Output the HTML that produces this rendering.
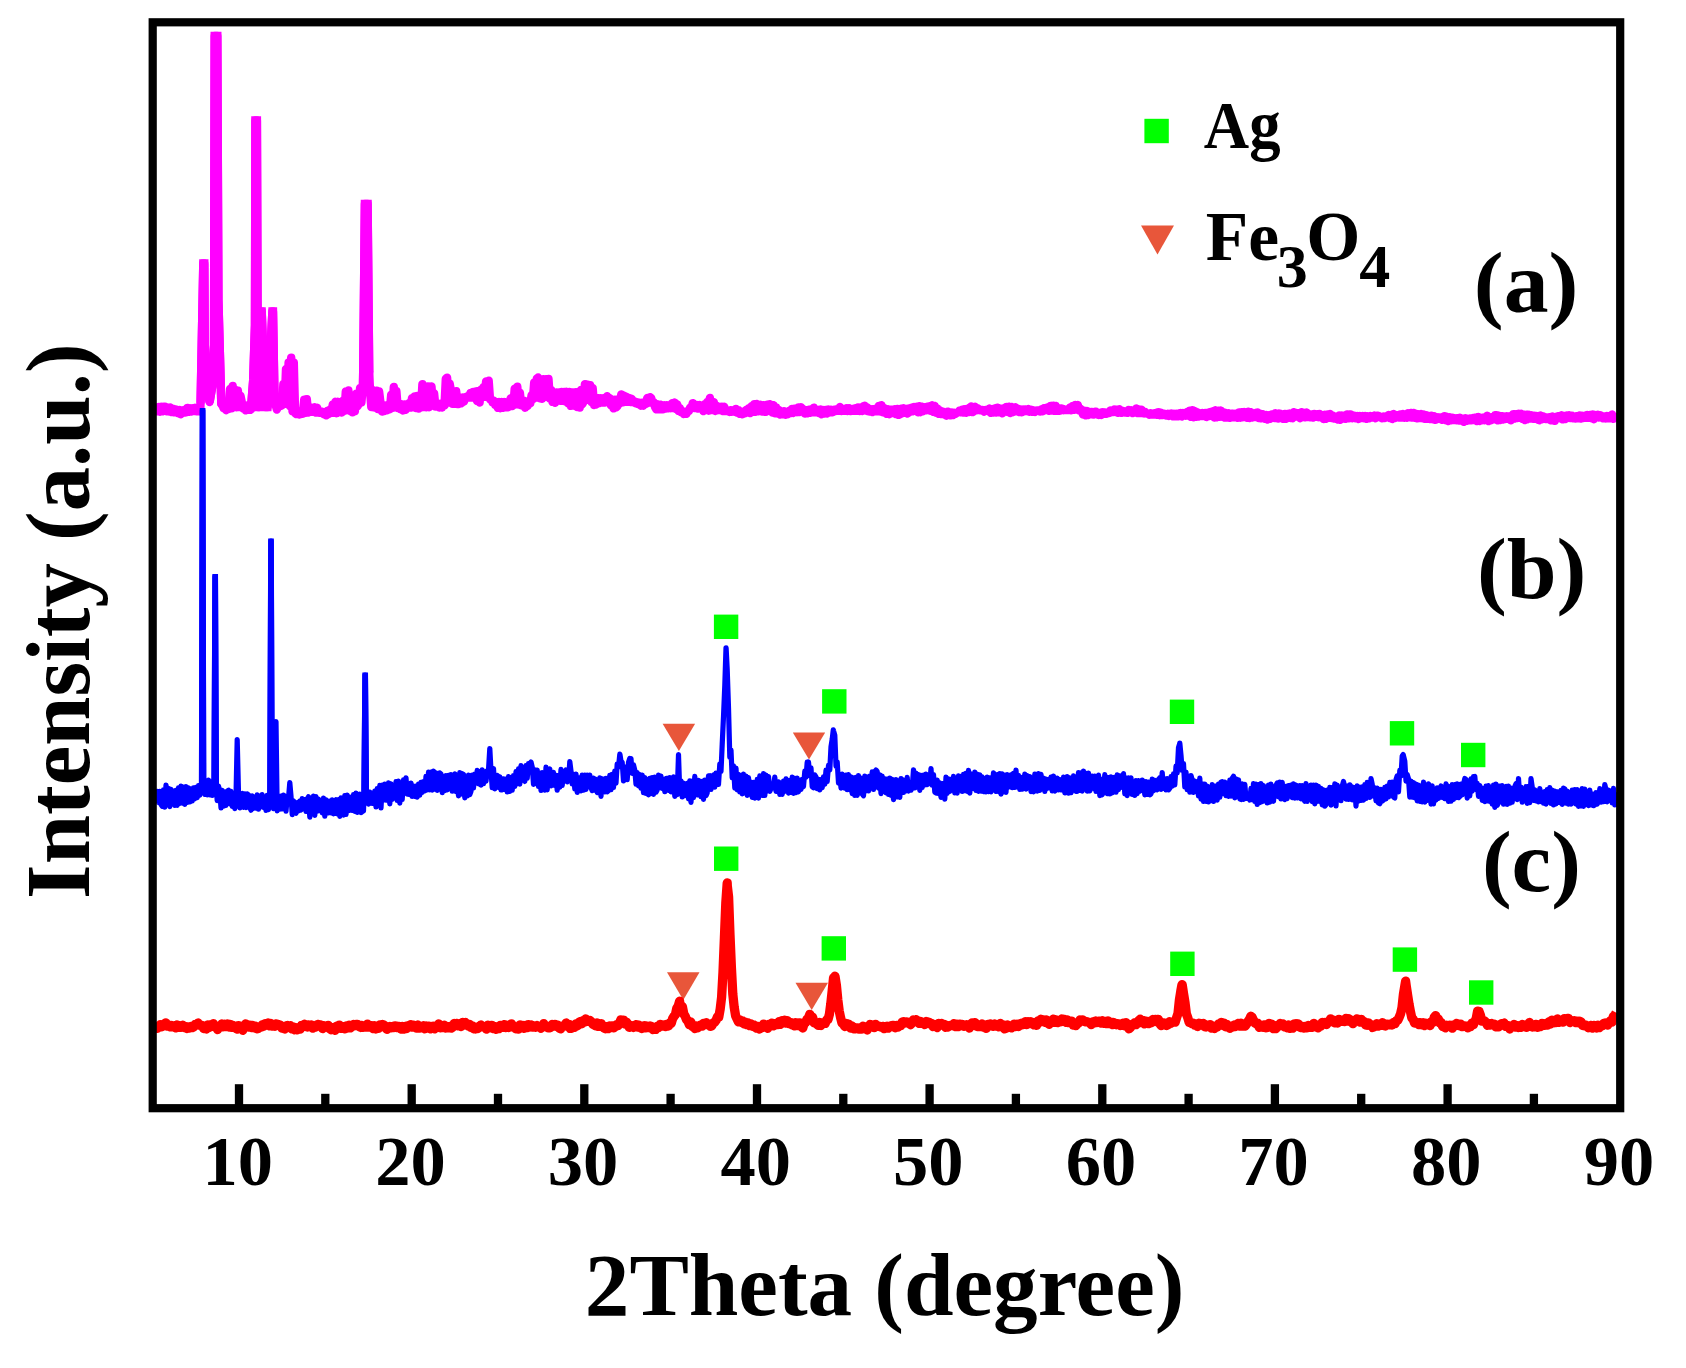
<!DOCTYPE html>
<html lang="en">
<head>
<meta charset="utf-8">
<title>XRD patterns</title>
<style>
html,body{margin:0;padding:0;background:#fff;}
body{width:1686px;height:1368px;overflow:hidden;}
svg{display:block;filter:blur(0.55px);}
</style>
</head>
<body>
<svg width="1686" height="1368" viewBox="0 0 1686 1368">
<rect x="0" y="0" width="1686" height="1368" fill="#ffffff"/>
<g fill="#E8563A">
<path d="M1141.0 225.4L1174.0 225.4L1157.5 254.4Z"/>
<path d="M662.6 723.8L695.1 723.8L678.9 751.0Z"/>
<path d="M792.8 732.4L825.2 732.4L809.0 759.5Z"/>
<path d="M667.0 972.3L699.5 972.3L683.3 1000.0Z"/>
<path d="M795.5 982.7L828.0 982.7L811.7 1010.0Z"/>
</g>
<g fill="#00FF00">
<rect x="1144.4" y="118.8" width="24.4" height="24.4"/>
<rect x="713.9" y="614.6" width="24.4" height="24.4"/>
<rect x="822.1" y="689.2" width="24.4" height="24.4"/>
<rect x="1169.8" y="699.6" width="24.4" height="24.4"/>
<rect x="1389.8" y="721.1" width="24.4" height="24.4"/>
<rect x="1461.0" y="742.8" width="24.4" height="24.4"/>
<rect x="714.0" y="846.5" width="24.4" height="24.4"/>
<rect x="821.6" y="936.2" width="24.4" height="24.4"/>
<rect x="1170.2" y="951.6" width="24.4" height="24.4"/>
<rect x="1392.7" y="947.4" width="24.4" height="24.4"/>
<rect x="1469.0" y="980.3" width="24.4" height="24.4"/>
</g>
<path d="M156.0 1027.1L157.4 1028.4L158.8 1026.3L160.2 1024.7L161.6 1026.9L163.0 1024.4L164.4 1024.0L165.8 1022.8L167.2 1026.2L168.6 1024.9L170.0 1026.9L171.4 1025.5L172.8 1026.7L174.2 1025.9L175.6 1027.9L177.0 1025.0L178.4 1027.3L179.8 1026.0L181.2 1027.3L182.6 1025.2L184.0 1027.6L185.4 1026.3L186.8 1028.5L188.2 1026.8L189.6 1028.1L191.0 1026.5L192.4 1027.5L193.8 1026.8L195.2 1024.5L196.6 1024.8L198.0 1023.0L199.4 1025.2L200.8 1025.5L202.2 1025.3L203.6 1028.5L205.0 1027.0L206.4 1029.0L207.8 1024.9L209.2 1027.5L210.6 1024.7L212.0 1026.2L213.4 1023.6L214.8 1026.8L216.2 1026.6L217.6 1029.6L219.0 1026.2L220.4 1026.4L221.8 1024.0L223.2 1026.9L224.6 1024.2L226.0 1026.5L227.4 1023.9L228.8 1027.0L230.2 1024.4L231.6 1027.3L233.0 1025.5L234.4 1027.7L235.8 1026.4L237.2 1029.2L238.6 1025.6L240.0 1028.1L241.4 1026.4L242.8 1030.3L244.2 1025.9L245.6 1023.9L247.0 1025.8L248.4 1027.0L249.8 1025.2L251.2 1027.5L252.6 1025.4L254.0 1027.8L255.4 1026.2L256.8 1028.8L258.2 1028.7L259.6 1027.2L261.0 1027.1L262.4 1024.7L263.8 1026.3L265.2 1023.6L266.6 1025.2L268.0 1022.9L269.4 1025.8L270.8 1023.4L272.2 1026.2L273.6 1024.7L275.0 1026.3L276.4 1023.8L277.8 1025.1L279.2 1024.7L280.6 1025.3L282.0 1028.2L283.4 1027.0L284.8 1029.0L286.2 1025.8L287.6 1025.5L289.0 1027.2L290.4 1025.7L291.8 1028.9L293.2 1026.9L294.6 1029.8L296.0 1027.6L297.4 1029.9L298.8 1027.5L300.2 1029.0L301.6 1025.3L303.0 1026.5L304.4 1024.2L305.8 1025.1L307.2 1027.0L308.6 1024.8L310.0 1026.1L311.4 1024.8L312.8 1028.2L314.2 1026.1L315.6 1027.1L317.0 1024.7L318.4 1024.4L319.8 1026.0L321.2 1025.0L322.6 1028.6L324.0 1025.7L325.4 1027.1L326.8 1026.7L328.2 1025.3L329.6 1028.7L331.0 1029.6L332.4 1028.1L333.8 1027.4L335.2 1030.3L336.6 1026.4L338.0 1025.7L339.4 1025.1L340.8 1028.4L342.2 1026.7L343.6 1026.7L345.0 1028.9L346.4 1025.9L347.8 1028.0L349.2 1025.1L350.6 1027.9L352.0 1025.9L353.4 1024.5L354.8 1025.6L356.2 1024.3L357.6 1024.3L359.0 1026.5L360.4 1027.3L361.8 1025.3L363.2 1027.4L364.6 1025.7L366.0 1027.2L367.4 1024.1L368.8 1027.0L370.2 1025.5L371.6 1025.6L373.0 1028.5L374.4 1025.7L375.8 1029.0L377.2 1026.2L378.6 1028.4L380.0 1024.8L381.4 1026.6L382.8 1024.6L384.2 1025.1L385.6 1027.9L387.0 1029.4L388.4 1027.0L389.8 1026.4L391.2 1027.9L392.6 1026.4L394.0 1027.7L395.4 1025.8L396.8 1027.6L398.2 1026.3L399.6 1026.6L401.0 1029.1L402.4 1026.4L403.8 1029.1L405.2 1026.4L406.6 1028.6L408.0 1025.6L409.4 1025.8L410.8 1024.6L412.2 1027.2L413.6 1025.2L415.0 1027.0L416.4 1028.1L417.8 1025.0L419.2 1028.2L420.6 1026.3L422.0 1027.9L423.4 1025.7L424.8 1028.8L426.2 1025.9L427.6 1028.0L429.0 1026.1L430.4 1028.8L431.8 1026.7L433.2 1026.2L434.6 1028.8L436.0 1025.8L437.4 1027.1L438.8 1023.9L440.2 1027.9L441.6 1025.9L443.0 1027.7L444.4 1025.2L445.8 1028.1L447.2 1026.3L448.6 1027.9L450.0 1026.3L451.4 1028.0L452.8 1027.1L454.2 1023.5L455.6 1025.5L457.0 1023.4L458.4 1025.9L459.8 1024.8L461.2 1026.5L462.6 1022.4L464.0 1023.5L465.4 1022.7L466.8 1024.7L468.2 1026.2L469.6 1024.4L471.0 1027.5L472.4 1025.8L473.8 1028.8L475.2 1029.0L476.6 1027.3L478.0 1028.3L479.4 1026.8L480.8 1025.0L482.2 1026.8L483.6 1027.0L485.0 1026.5L486.4 1029.1L487.8 1025.1L489.2 1025.9L490.6 1027.8L492.0 1025.3L493.4 1028.6L494.8 1026.5L496.2 1029.4L497.6 1026.7L499.0 1028.7L500.4 1025.3L501.8 1026.4L503.2 1027.1L504.6 1024.6L506.0 1027.5L507.4 1025.9L508.8 1027.5L510.2 1024.4L511.6 1023.8L513.0 1026.9L514.4 1026.4L515.8 1028.8L517.2 1027.0L518.6 1029.1L520.0 1025.0L521.4 1026.0L522.8 1025.5L524.2 1028.4L525.6 1025.3L527.0 1027.7L528.4 1024.6L529.8 1027.0L531.2 1025.0L532.6 1027.1L534.0 1026.1L535.4 1027.3L536.8 1025.5L538.2 1026.5L539.6 1026.8L541.0 1028.2L542.4 1027.1L543.8 1023.6L545.2 1026.6L546.6 1026.0L548.0 1027.8L549.4 1027.8L550.8 1027.3L552.2 1024.4L553.6 1025.9L555.0 1024.5L556.4 1026.4L557.8 1025.2L559.2 1028.0L560.6 1028.9L562.0 1026.2L563.4 1026.4L564.8 1024.9L566.2 1023.0L567.6 1026.6L569.0 1024.3L570.4 1028.4L571.8 1028.1L573.2 1026.3L574.6 1027.3L576.0 1023.8L577.4 1025.8L578.8 1022.3L580.2 1021.6L581.6 1023.9L583.0 1020.7L584.4 1022.1L585.8 1018.9L587.2 1021.4L588.6 1021.3L590.0 1020.5L591.4 1021.7L592.8 1024.1L594.2 1024.9L595.6 1025.8L597.0 1023.0L598.4 1026.4L599.8 1026.4L601.2 1023.7L602.6 1026.5L604.0 1027.9L605.4 1028.7L606.8 1026.7L608.2 1028.7L609.6 1026.0L611.0 1027.7L612.4 1025.9L613.8 1027.8L615.2 1026.5L616.6 1024.5L618.0 1025.6L619.4 1023.5L620.8 1019.8L622.2 1022.5L623.6 1020.1L625.0 1024.2L626.4 1022.1L627.8 1023.7L629.2 1027.3L630.6 1025.8L632.0 1025.7L633.4 1027.4L634.8 1026.7L636.2 1024.6L637.6 1027.1L639.0 1025.2L640.4 1027.7L641.8 1028.5L643.2 1026.2L644.6 1025.7L646.0 1027.9L647.4 1026.2L648.8 1027.5L650.2 1025.9L651.6 1026.5L653.0 1029.6L654.4 1027.5L655.8 1029.4L657.2 1026.3L658.6 1027.5L660.0 1024.5L661.4 1024.6L662.8 1026.0L664.2 1024.8L665.6 1026.6L667.0 1024.3L668.4 1026.0L669.8 1022.9L671.2 1023.3L672.6 1018.7L674.0 1016.3L675.4 1014.7L676.8 1008.3L678.2 1006.2L679.6 1001.2L679.8 1003.8L681.0 1005.4L682.4 1006.7L683.8 1014.0L685.2 1016.2L686.6 1019.8L688.0 1021.2L689.4 1024.8L690.8 1021.9L692.2 1026.4L693.6 1025.5L695.0 1028.6L696.4 1025.8L697.8 1027.8L699.2 1025.8L700.6 1025.0L702.0 1026.2L703.4 1023.3L704.8 1024.8L706.2 1022.7L707.6 1024.4L709.0 1024.0L710.4 1026.3L711.8 1025.8L713.2 1022.9L714.6 1022.4L716.0 1020.4L717.4 1016.9L718.8 1017.0L720.2 1009.0L721.6 997.3L723.0 972.0L724.4 937.9L725.8 903.1L727.2 883.0L727.3 885.8L728.6 897.1L730.0 934.9L731.4 967.4L732.8 994.0L734.2 1007.2L735.6 1015.8L737.0 1018.8L738.4 1021.8L739.8 1019.8L741.2 1022.4L742.6 1020.9L744.0 1023.8L745.4 1022.2L746.8 1024.7L748.2 1023.0L749.6 1025.7L751.0 1023.9L752.4 1026.3L753.8 1024.8L755.2 1027.2L756.6 1028.2L758.0 1026.4L759.4 1029.0L760.8 1027.3L762.2 1027.6L763.6 1024.1L765.0 1026.8L766.4 1025.4L767.8 1028.3L769.2 1024.2L770.6 1025.5L772.0 1023.1L773.4 1025.9L774.8 1023.7L776.2 1024.3L777.6 1024.6L779.0 1021.6L780.4 1024.4L781.8 1020.7L783.2 1022.8L784.6 1020.2L786.0 1023.1L787.4 1020.7L788.8 1023.5L790.2 1022.3L791.6 1024.7L793.0 1023.1L794.4 1025.9L795.8 1022.7L797.2 1025.7L798.6 1023.0L800.0 1023.0L801.4 1026.6L802.8 1028.0L804.2 1023.2L805.6 1022.7L807.0 1019.3L808.4 1018.1L809.8 1014.3L809.8 1017.1L811.2 1017.7L812.6 1017.2L814.0 1022.7L815.4 1022.3L816.8 1024.2L818.2 1025.3L819.6 1022.5L821.0 1025.5L822.4 1023.1L823.8 1023.4L825.2 1023.4L826.6 1020.0L828.0 1019.6L829.4 1014.3L830.8 1003.7L832.2 990.8L833.6 977.6L834.5 977.3L835.0 976.2L836.4 985.1L837.8 999.8L839.2 1010.8L840.6 1017.7L842.0 1023.2L843.4 1024.1L844.8 1026.5L846.2 1023.5L847.6 1024.8L849.0 1024.2L850.4 1028.0L851.8 1025.8L853.2 1028.6L854.6 1028.9L856.0 1027.9L857.4 1027.8L858.8 1029.2L860.2 1027.7L861.6 1029.1L863.0 1026.2L864.4 1028.7L865.8 1026.8L867.2 1030.0L868.6 1026.6L870.0 1024.5L871.4 1025.0L872.8 1026.3L874.2 1027.7L875.6 1024.3L877.0 1026.3L878.4 1025.9L879.8 1026.6L881.2 1027.1L882.6 1026.3L884.0 1028.7L885.4 1026.9L886.8 1026.3L888.2 1028.2L889.6 1026.3L891.0 1025.8L892.4 1025.4L893.8 1025.5L895.2 1027.8L896.6 1025.4L898.0 1027.1L899.4 1025.5L900.8 1025.6L902.2 1022.1L903.6 1021.6L905.0 1022.9L906.4 1022.0L907.8 1022.1L909.2 1023.7L910.6 1024.6L912.0 1023.1L913.4 1019.9L914.8 1021.7L916.2 1019.7L917.6 1021.0L919.0 1023.4L920.4 1021.4L921.8 1023.4L923.2 1022.4L924.6 1024.6L926.0 1021.5L927.4 1023.4L928.8 1022.1L930.2 1023.9L931.6 1023.5L933.0 1026.6L934.4 1024.6L935.8 1024.7L937.2 1027.5L938.6 1023.4L940.0 1025.0L941.4 1023.5L942.8 1025.4L944.2 1024.3L945.6 1027.3L947.0 1025.4L948.4 1026.8L949.8 1025.6L951.2 1025.2L952.6 1025.8L954.0 1023.6L955.4 1026.7L956.8 1024.2L958.2 1026.7L959.6 1024.2L961.0 1024.4L962.4 1024.4L963.8 1026.3L965.2 1026.2L966.6 1024.7L968.0 1025.1L969.4 1028.0L970.8 1024.3L972.2 1022.9L973.6 1024.4L975.0 1022.6L976.4 1026.1L977.8 1026.6L979.2 1025.1L980.6 1026.7L982.0 1023.9L983.4 1027.1L984.8 1026.5L986.2 1028.3L987.6 1024.5L989.0 1025.7L990.4 1024.0L991.8 1026.0L993.2 1026.4L994.6 1024.0L996.0 1026.1L997.4 1024.7L998.8 1026.9L1000.2 1023.4L1001.6 1025.6L1003.0 1024.7L1004.4 1028.9L1005.8 1028.4L1007.2 1024.9L1008.6 1027.1L1010.0 1025.9L1011.4 1027.9L1012.8 1025.3L1014.2 1024.1L1015.6 1026.5L1017.0 1024.2L1018.4 1026.5L1019.8 1023.8L1021.2 1023.3L1022.6 1024.8L1024.0 1024.2L1025.4 1021.6L1026.8 1024.5L1028.2 1021.6L1029.6 1023.7L1031.0 1021.8L1032.4 1022.5L1033.8 1024.9L1035.2 1022.4L1036.6 1025.3L1038.0 1020.8L1039.4 1022.5L1040.8 1019.2L1042.2 1021.5L1043.6 1019.8L1045.0 1022.3L1046.4 1019.9L1047.8 1023.3L1049.2 1024.3L1050.6 1020.9L1052.0 1021.2L1053.4 1019.1L1054.8 1022.3L1056.2 1020.0L1057.6 1022.6L1059.0 1021.4L1060.4 1021.8L1061.8 1019.0L1063.2 1021.3L1064.6 1019.4L1066.0 1022.4L1067.4 1020.0L1068.8 1022.7L1070.2 1021.2L1071.6 1021.1L1073.0 1025.0L1074.4 1025.1L1075.8 1025.6L1077.2 1024.0L1078.6 1023.0L1080.0 1019.9L1081.4 1021.1L1082.8 1019.8L1084.2 1021.4L1085.6 1021.9L1087.0 1021.6L1088.4 1022.3L1089.8 1022.9L1091.2 1024.6L1092.6 1021.9L1094.0 1022.8L1095.4 1021.0L1096.8 1022.7L1098.2 1021.4L1099.6 1021.1L1101.0 1023.2L1102.4 1020.7L1103.8 1023.3L1105.2 1021.3L1106.6 1023.7L1108.0 1021.0L1109.4 1023.6L1110.8 1022.1L1112.2 1024.6L1113.6 1022.6L1115.0 1023.2L1116.4 1024.8L1117.8 1023.6L1119.2 1024.0L1120.6 1025.5L1122.0 1024.9L1123.4 1023.1L1124.8 1025.8L1126.2 1022.7L1127.6 1025.6L1129.0 1028.8L1130.4 1027.7L1131.8 1024.6L1133.2 1025.1L1134.6 1022.8L1136.0 1024.7L1137.4 1023.3L1138.8 1020.6L1140.2 1019.2L1141.6 1022.6L1143.0 1020.3L1144.4 1023.9L1145.8 1021.2L1147.2 1021.3L1148.6 1023.7L1150.0 1021.2L1151.4 1022.8L1152.8 1019.5L1154.2 1021.3L1155.6 1019.3L1157.0 1021.9L1158.4 1019.3L1159.8 1023.9L1161.2 1025.6L1162.6 1023.0L1164.0 1022.9L1165.4 1023.3L1166.8 1025.4L1168.2 1024.7L1169.6 1021.7L1171.0 1023.2L1172.4 1022.0L1173.8 1021.4L1175.2 1022.2L1176.6 1017.7L1178.0 1013.4L1179.4 1000.0L1180.8 991.1L1181.9 985.0L1182.2 984.6L1183.6 994.0L1185.0 1002.6L1186.4 1014.0L1187.8 1017.7L1189.2 1022.5L1190.6 1022.8L1192.0 1023.6L1193.4 1023.3L1194.8 1025.1L1196.2 1024.5L1197.6 1026.5L1199.0 1023.2L1200.4 1023.5L1201.8 1025.0L1203.2 1023.5L1204.6 1026.7L1206.0 1027.0L1207.4 1025.2L1208.8 1026.3L1210.2 1024.6L1211.6 1028.2L1213.0 1026.3L1214.4 1028.5L1215.8 1026.1L1217.2 1026.9L1218.6 1023.9L1220.0 1025.1L1221.4 1022.4L1222.8 1025.4L1224.2 1023.2L1225.6 1026.8L1227.0 1024.5L1228.4 1026.9L1229.8 1028.4L1231.2 1026.4L1232.6 1027.0L1234.0 1025.0L1235.4 1026.4L1236.8 1025.3L1238.2 1023.3L1239.6 1026.0L1241.0 1023.2L1242.4 1026.2L1243.8 1025.1L1245.2 1026.1L1246.6 1024.1L1248.0 1021.5L1249.4 1019.5L1250.8 1016.2L1252.2 1017.4L1253.6 1020.4L1255.0 1023.1L1256.4 1023.8L1257.8 1023.1L1259.2 1027.4L1260.6 1025.6L1262.0 1025.5L1263.4 1027.3L1264.8 1024.8L1266.2 1027.8L1267.6 1027.5L1269.0 1023.3L1270.4 1025.4L1271.8 1024.1L1273.2 1028.6L1274.6 1025.7L1276.0 1028.5L1277.4 1025.4L1278.8 1026.0L1280.2 1023.5L1281.6 1025.5L1283.0 1023.9L1284.4 1026.8L1285.8 1025.3L1287.2 1027.9L1288.6 1025.0L1290.0 1028.4L1291.4 1025.2L1292.8 1028.2L1294.2 1023.8L1295.6 1025.6L1297.0 1023.6L1298.4 1024.0L1299.8 1027.3L1301.2 1027.6L1302.6 1026.4L1304.0 1028.2L1305.4 1026.4L1306.8 1027.9L1308.2 1025.5L1309.6 1027.1L1311.0 1026.1L1312.4 1027.4L1313.8 1023.4L1315.2 1024.8L1316.6 1025.2L1318.0 1027.9L1319.4 1025.0L1320.8 1026.1L1322.2 1022.4L1323.6 1023.8L1325.0 1022.3L1326.4 1024.5L1327.8 1022.5L1329.2 1022.2L1330.6 1018.8L1332.0 1021.2L1333.4 1020.1L1334.8 1022.9L1336.2 1020.6L1337.6 1023.0L1339.0 1019.3L1340.4 1020.7L1341.8 1021.2L1343.2 1019.9L1344.6 1021.7L1346.0 1018.4L1347.4 1021.2L1348.8 1018.7L1350.2 1021.6L1351.6 1020.1L1353.0 1023.7L1354.4 1020.4L1355.8 1021.4L1357.2 1018.8L1358.6 1020.1L1360.0 1022.2L1361.4 1019.5L1362.8 1021.1L1364.2 1021.6L1365.6 1025.0L1367.0 1025.3L1368.4 1022.8L1369.8 1025.3L1371.2 1024.6L1372.6 1027.4L1374.0 1026.9L1375.4 1026.2L1376.8 1023.6L1378.2 1026.1L1379.6 1024.1L1381.0 1025.4L1382.4 1022.6L1383.8 1025.4L1385.2 1026.0L1386.6 1024.1L1388.0 1024.3L1389.4 1024.8L1390.8 1023.9L1392.2 1025.0L1393.6 1022.5L1395.0 1023.7L1396.4 1020.7L1397.8 1020.2L1399.2 1017.2L1400.6 1013.7L1402.0 1007.4L1403.4 994.6L1404.8 985.9L1405.6 981.2L1406.2 985.6L1407.6 994.9L1409.0 1004.0L1410.4 1011.3L1411.8 1017.9L1413.2 1019.3L1414.6 1023.0L1416.0 1022.3L1417.4 1022.5L1418.8 1024.6L1420.2 1022.6L1421.6 1024.8L1423.0 1022.7L1424.4 1025.5L1425.8 1023.1L1427.2 1024.7L1428.6 1023.7L1430.0 1025.6L1431.4 1021.8L1432.8 1022.5L1434.2 1017.4L1435.6 1015.6L1437.0 1019.1L1438.4 1019.1L1439.8 1022.9L1441.2 1022.7L1442.6 1026.5L1444.0 1025.3L1445.4 1027.9L1446.8 1025.3L1448.2 1025.8L1449.6 1025.1L1451.0 1025.7L1452.4 1028.2L1453.8 1024.9L1455.2 1025.5L1456.6 1023.4L1458.0 1025.5L1459.4 1025.8L1460.8 1024.2L1462.2 1026.7L1463.6 1025.6L1465.0 1026.0L1466.4 1026.2L1467.8 1027.9L1469.2 1025.6L1470.6 1026.7L1472.0 1023.1L1473.4 1024.7L1474.8 1021.3L1476.2 1018.6L1477.6 1011.2L1478.3 1012.1L1479.0 1011.3L1480.4 1015.1L1481.8 1021.0L1483.2 1020.8L1484.6 1020.9L1486.0 1022.4L1487.4 1025.3L1488.8 1023.3L1490.2 1025.1L1491.6 1023.7L1493.0 1024.9L1494.4 1024.2L1495.8 1026.8L1497.2 1025.8L1498.6 1026.9L1500.0 1024.7L1501.4 1023.7L1502.8 1025.0L1504.2 1023.0L1505.6 1026.4L1507.0 1025.6L1508.4 1025.6L1509.8 1029.0L1511.2 1025.8L1512.6 1027.1L1514.0 1024.3L1515.4 1027.0L1516.8 1025.3L1518.2 1027.6L1519.6 1026.7L1521.0 1027.4L1522.4 1024.4L1523.8 1026.2L1525.2 1025.5L1526.6 1027.3L1528.0 1024.3L1529.4 1022.5L1530.8 1025.8L1532.2 1027.0L1533.6 1024.8L1535.0 1026.8L1536.4 1024.3L1537.8 1027.3L1539.2 1025.6L1540.6 1026.6L1542.0 1023.3L1543.4 1024.2L1544.8 1025.1L1546.2 1023.3L1547.6 1025.1L1549.0 1021.7L1550.4 1024.0L1551.8 1020.2L1553.2 1022.8L1554.6 1020.5L1556.0 1022.6L1557.4 1018.9L1558.8 1022.4L1560.2 1020.6L1561.6 1021.8L1563.0 1022.1L1564.4 1018.6L1565.8 1020.4L1567.2 1018.4L1568.6 1018.5L1570.0 1022.6L1571.4 1020.9L1572.8 1021.2L1574.2 1020.7L1575.6 1022.7L1577.0 1021.2L1578.4 1022.8L1579.8 1021.2L1581.2 1022.0L1582.6 1025.5L1584.0 1025.8L1585.4 1024.9L1586.8 1025.6L1588.2 1027.7L1589.6 1027.4L1591.0 1025.4L1592.4 1028.1L1593.8 1025.5L1595.2 1025.6L1596.6 1028.0L1598.0 1025.1L1599.4 1027.6L1600.8 1025.4L1602.2 1025.7L1603.6 1023.5L1605.0 1022.9L1606.4 1024.5L1607.8 1025.0L1609.2 1022.2L1610.6 1020.6L1612.0 1022.1L1613.4 1016.3L1614.8 1015.4L1616.2 1012.6" fill="none" stroke="#FF0000" stroke-width="9.3" stroke-linejoin="round" stroke-linecap="butt"/>
<path d="M156.0 406.9L157.3 411.2L158.6 407.0L159.9 411.7L161.2 406.7L162.5 411.4L163.8 406.6L165.1 406.6L166.4 411.2L167.7 407.5L169.0 411.5L170.3 407.4L171.6 412.0L172.9 408.7L174.2 412.4L175.5 409.5L176.8 409.6L178.1 413.2L179.4 410.0L180.7 414.2L182.0 413.2L183.3 410.1L184.6 412.5L185.9 412.3L187.2 407.9L188.5 411.9L189.8 408.3L191.1 411.6L192.4 408.3L193.7 411.1L195.0 407.8L196.3 411.2L197.6 411.3L198.9 407.8L200.2 411.5L200.6 402.0L203.3 263.5L204.3 263.5L204.8 345.0L206.5 385.0L209.6 402.0L212.5 385.0L214.0 345.0L214.7 36.0L217.3 36.0L218.4 300.0L221.3 404.0L222.3 405.0L223.6 408.2L224.9 405.2L226.2 410.2L227.5 404.1L228.8 409.0L230.1 388.9L231.4 408.4L232.7 386.0L234.0 407.3L235.3 390.0L236.6 407.2L237.9 390.8L239.2 407.0L240.5 395.9L241.8 402.1L243.1 408.5L244.4 405.4L245.7 410.4L247.0 405.5L248.3 409.9L249.6 405.1L250.9 409.7L251.5 402.0L253.2 380.0L255.0 325.0L255.4 120.5L256.9 120.5L257.5 300.0L258.2 407.0L259.3 407.0L260.9 311.5L261.7 311.5L265.5 407.0L267.5 407.0L272.4 311.5L273.0 311.5L274.6 404.0L275.6 404.8L276.9 409.6L278.2 405.4L279.5 405.3L280.8 406.0L282.1 405.2L283.4 384.0L284.7 403.7L286.0 369.0L287.3 403.8L288.6 362.4L289.9 406.1L291.2 357.6L292.5 411.4L293.8 362.6L295.1 413.1L296.4 414.1L297.7 411.2L299.0 414.5L300.3 411.0L301.6 413.9L302.9 413.6L304.2 399.6L305.5 412.8L306.8 399.1L308.1 412.6L309.4 406.9L310.7 411.9L312.0 411.8L313.3 411.8L314.6 407.3L315.9 412.6L317.2 407.7L318.5 412.7L319.8 412.9L321.1 411.5L322.4 412.0L323.7 414.2L325.0 412.1L326.3 415.3L327.6 410.8L328.9 413.9L330.2 409.4L331.5 412.9L332.8 404.5L334.1 412.9L335.4 401.8L336.7 413.2L338.0 401.8L339.3 409.6L340.6 409.5L341.9 412.5L343.2 400.5L344.5 410.8L345.8 391.5L347.1 409.7L348.4 390.5L349.7 410.8L351.0 396.0L352.3 412.3L353.6 397.2L354.9 411.2L356.2 393.6L357.5 406.3L358.8 403.8L360.1 387.9L361.4 402.5L362.7 387.9L363.2 372.0L364.9 204.0L367.6 204.0L369.2 372.0L370.0 390.6L371.3 407.1L372.6 390.3L373.9 407.4L375.2 407.6L376.5 390.7L377.8 409.1L379.1 391.5L380.8 405.3L382.1 411.6L383.4 405.2L384.7 411.0L386.0 405.4L387.3 410.2L388.6 404.6L389.9 409.3L391.2 394.6L392.5 407.9L393.8 387.0L395.1 407.4L396.4 391.3L397.7 408.0L399.0 403.7L400.3 409.1L401.6 404.3L402.9 410.5L404.2 404.4L405.5 409.9L406.8 404.5L408.1 407.8L409.4 402.9L410.7 407.6L412.0 398.2L413.3 407.3L414.6 396.4L415.9 408.0L417.2 395.9L418.5 408.5L419.8 395.3L421.1 407.4L422.4 384.2L423.7 407.0L425.0 386.8L426.3 407.3L427.6 386.5L428.9 407.2L430.2 386.6L431.5 386.5L432.8 405.3L434.1 393.5L435.4 406.5L436.7 406.5L438.0 403.5L439.3 407.6L440.6 403.6L441.9 407.6L443.2 403.6L444.5 405.6L445.8 378.9L447.1 377.7L448.4 402.5L449.7 383.8L451.0 391.0L452.3 403.7L453.6 391.2L454.9 403.7L456.2 391.3L457.5 404.1L458.8 404.0L460.1 397.6L461.4 403.3L462.7 397.5L464.0 401.5L465.3 397.2L466.6 397.5L467.9 396.0L469.2 397.5L470.5 393.0L471.8 397.5L473.1 391.9L474.4 397.9L475.7 391.4L477.0 400.9L478.3 391.0L479.6 402.5L480.9 389.7L482.2 396.9L483.5 387.2L484.8 396.9L486.1 381.4L487.4 396.1L488.7 380.8L490.0 399.3L491.3 399.1L492.6 402.5L493.9 400.8L495.2 404.9L496.5 402.0L497.8 407.9L499.1 402.0L500.4 408.2L501.7 402.0L503.0 407.8L504.3 402.0L505.6 407.4L506.9 402.1L508.2 407.3L509.5 402.1L510.8 398.2L512.1 406.1L513.4 405.1L514.7 388.7L516.0 404.3L517.3 386.8L518.6 404.6L519.9 392.9L521.2 405.2L522.5 400.8L523.8 400.8L525.1 407.7L526.4 401.5L527.7 406.0L529.0 401.3L530.3 403.3L531.6 395.2L532.9 399.2L534.2 382.4L535.5 397.6L536.8 378.7L538.1 377.5L539.4 398.2L540.7 379.1L542.0 398.8L543.3 379.1L544.6 396.8L545.9 379.3L547.2 397.1L548.5 379.0L549.8 398.7L551.1 389.8L552.4 401.9L553.7 392.3L555.0 402.8L556.3 392.4L557.6 400.5L558.9 392.4L560.2 400.9L561.5 392.0L562.8 400.9L564.1 391.9L565.4 401.3L566.7 391.8L568.0 403.2L569.3 391.9L570.6 405.9L571.9 392.4L573.2 392.4L574.5 405.7L575.8 392.2L577.1 407.0L578.4 392.3L579.7 407.6L581.0 390.0L582.3 404.1L583.6 401.9L584.9 384.3L586.2 400.0L587.5 384.8L588.8 399.8L590.1 385.2L591.4 402.0L592.7 388.2L594.0 405.1L595.3 398.1L596.6 404.5L597.9 398.1L599.2 403.1L600.5 398.3L601.8 402.6L603.1 398.2L604.4 402.5L605.7 402.3L607.0 396.2L608.3 402.2L609.6 397.9L610.9 405.3L612.2 399.5L613.5 408.4L614.8 399.7L616.1 407.4L617.4 406.2L618.7 398.9L620.0 403.5L621.3 394.4L622.6 402.4L623.9 395.7L625.2 401.9L626.5 396.9L627.8 401.8L629.1 397.9L630.4 402.0L631.7 398.8L633.0 402.2L634.3 401.1L635.6 403.1L636.9 402.3L638.2 404.2L639.5 402.6L640.8 405.7L642.1 402.6L643.4 405.7L644.7 402.6L646.0 404.0L647.3 397.9L648.6 402.8L649.9 397.2L651.2 398.2L652.5 403.0L653.8 402.3L655.1 407.1L656.4 409.4L657.7 404.4L659.0 409.3L660.3 404.6L661.6 409.4L662.9 409.3L664.2 405.3L665.5 408.5L666.8 405.2L668.1 408.4L669.4 405.2L670.7 408.2L672.0 403.3L673.3 408.1L674.6 402.5L675.9 408.9L677.2 404.4L678.5 410.9L679.8 408.1L681.1 412.2L682.4 411.6L683.7 414.1L685.0 411.6L686.3 413.9L687.6 411.6L688.9 411.0L690.2 407.5L691.5 408.1L692.8 403.1L694.1 408.0L695.4 408.1L696.7 404.9L698.0 408.6L699.3 405.0L700.8 406.4L702.1 406.3L703.4 411.1L704.7 404.3L706.0 410.0L707.3 402.0L708.6 410.7L709.9 398.0L711.2 409.6L712.5 410.0L713.8 402.2L715.1 411.0L716.4 405.6L717.7 410.3L719.0 406.7L720.3 410.3L721.6 406.7L722.9 411.0L724.2 406.7L725.5 411.0L726.8 410.9L728.1 411.2L729.4 411.9L730.7 410.2L732.0 411.7L733.3 410.1L734.6 411.8L735.9 408.9L737.2 412.8L738.5 410.1L739.8 413.9L741.1 411.7L742.4 414.3L743.7 411.6L745.0 413.2L746.3 409.8L747.6 412.6L748.9 408.1L750.2 413.1L751.5 406.3L752.8 411.9L754.1 404.3L755.4 411.8L756.7 404.0L758.0 411.3L759.3 411.0L760.6 404.8L761.9 411.6L763.2 405.1L764.5 411.7L765.8 411.8L767.1 404.6L768.4 410.7L769.7 404.2L771.0 411.1L772.3 412.6L773.6 405.1L774.9 413.4L776.2 407.4L777.5 413.5L778.8 409.9L780.1 414.5L781.4 411.5L782.7 414.4L784.0 411.2L785.3 414.7L786.6 411.9L787.9 414.2L789.2 410.7L790.5 413.1L791.8 409.0L793.1 413.1L794.4 408.7L795.7 408.8L797.0 412.2L798.3 407.4L799.6 412.0L800.9 407.3L802.2 408.4L803.5 409.5L804.8 413.5L806.1 410.1L807.4 413.4L808.7 409.7L810.0 412.9L811.3 409.2L812.6 412.4L813.9 407.6L815.2 412.2L816.5 409.7L817.8 409.9L819.1 413.1L820.4 409.5L821.7 414.3L823.0 410.0L824.3 413.5L825.6 409.9L826.9 413.5L828.2 409.4L829.5 412.5L830.8 409.6L832.1 412.3L833.4 411.8L834.7 409.6L836.0 411.0L837.3 409.1L838.6 410.8L839.9 407.0L841.2 411.1L842.5 408.6L843.8 410.7L845.1 410.8L846.4 408.3L847.7 411.0L849.0 408.1L850.3 411.1L851.6 410.9L852.9 408.9L854.2 410.8L855.5 408.2L856.8 410.9L858.1 407.4L859.4 411.0L860.7 407.5L862.0 411.0L863.3 406.4L864.6 405.8L865.9 410.5L867.2 407.3L868.5 411.4L869.8 411.5L871.1 409.1L872.4 412.1L873.7 409.1L875.0 411.4L876.3 408.4L877.6 411.4L878.9 405.9L880.2 411.5L881.5 405.1L882.8 412.3L884.1 408.1L885.4 413.0L886.7 413.8L888.0 409.2L889.3 414.2L890.6 409.8L891.9 409.7L893.2 413.1L894.5 409.3L895.8 414.1L897.1 408.9L898.4 414.9L899.7 414.5L901.0 408.8L902.3 413.3L903.6 408.2L904.9 412.9L906.2 408.9L907.5 413.5L908.8 408.4L910.1 411.9L911.4 407.7L912.7 411.2L914.0 406.9L915.3 410.8L916.6 406.8L917.9 412.3L919.2 406.2L920.5 412.2L921.8 406.6L923.1 411.3L924.4 407.3L925.7 410.4L927.0 406.8L928.3 410.3L929.6 406.2L930.9 410.8L932.2 405.3L933.5 411.9L934.8 405.9L936.1 412.9L937.4 408.6L938.7 413.8L940.0 410.5L941.3 414.1L942.6 411.5L943.9 414.3L945.2 412.4L946.5 415.7L947.8 411.6L949.1 412.3L950.4 415.4L951.7 412.4L953.0 415.1L954.3 412.7L955.6 413.9L956.9 412.6L958.2 412.5L959.5 410.6L960.8 412.3L962.1 409.6L963.4 412.6L964.7 409.2L966.0 412.8L967.3 408.7L968.6 412.0L969.9 408.0L971.2 406.4L972.5 412.1L973.8 411.5L975.1 406.7L976.4 410.3L977.7 408.2L979.0 410.1L980.3 410.2L981.6 409.9L982.9 410.2L984.2 411.7L985.5 410.1L986.8 409.7L988.1 410.7L989.4 408.5L990.7 412.9L992.0 409.2L993.3 412.6L994.6 408.4L995.9 412.5L997.2 407.6L998.5 412.3L999.8 408.4L1001.1 412.6L1002.4 413.3L1003.7 408.3L1005.0 411.6L1006.3 407.0L1007.6 411.9L1008.9 406.6L1010.2 413.1L1011.5 406.9L1012.8 412.2L1014.1 411.7L1015.4 407.2L1016.7 411.4L1018.0 408.7L1019.3 412.1L1020.6 409.4L1021.9 412.2L1023.2 409.5L1024.5 411.3L1025.8 409.5L1027.1 411.2L1028.4 409.0L1029.7 411.8L1031.0 409.6L1032.3 411.9L1033.6 410.5L1034.9 411.8L1036.2 410.6L1037.5 410.4L1038.8 410.4L1040.1 411.5L1041.4 409.3L1042.7 411.3L1044.0 408.1L1045.3 410.2L1046.6 407.8L1047.9 407.2L1049.2 410.9L1050.5 405.9L1051.8 410.5L1053.1 405.6L1054.4 410.9L1055.7 405.9L1057.0 410.7L1058.3 410.7L1059.6 410.8L1060.9 408.4L1062.2 408.6L1063.5 410.2L1064.8 409.4L1066.1 410.1L1067.4 409.3L1068.7 410.1L1070.0 407.6L1071.3 410.2L1072.6 406.0L1073.9 409.7L1075.2 405.0L1076.5 409.6L1077.8 405.0L1079.1 410.5L1080.4 408.6L1081.7 410.4L1083.0 414.5L1084.3 410.8L1085.6 415.4L1086.9 411.0L1088.2 415.0L1089.5 411.9L1090.8 414.2L1092.1 411.9L1093.4 414.6L1094.7 411.9L1096.0 411.6L1097.3 412.9L1098.6 415.0L1099.9 412.9L1101.2 415.0L1102.5 412.1L1103.8 413.9L1105.1 412.5L1106.4 413.9L1107.7 412.5L1109.0 412.9L1110.3 410.5L1111.6 412.2L1112.9 412.0L1114.2 409.5L1115.5 412.1L1116.8 409.6L1118.1 412.8L1119.4 409.2L1120.7 412.9L1122.0 412.8L1123.3 411.3L1124.6 412.4L1125.9 411.3L1127.2 412.9L1128.5 409.9L1129.8 412.3L1131.1 410.3L1132.4 413.1L1133.7 410.4L1135.0 412.6L1136.3 408.5L1137.6 413.0L1138.9 409.5L1140.2 413.1L1141.5 409.6L1142.8 413.2L1144.1 413.5L1145.4 412.3L1146.7 413.6L1148.0 413.4L1149.3 414.6L1150.6 413.4L1151.9 414.5L1153.2 413.5L1154.5 414.6L1155.8 413.0L1157.1 414.9L1158.4 412.1L1159.7 415.2L1161.0 412.7L1162.3 415.1L1163.6 413.7L1164.9 413.9L1166.2 415.5L1167.5 413.8L1168.8 416.0L1170.1 414.0L1171.4 413.5L1172.7 416.4L1174.0 413.7L1175.3 416.4L1176.6 413.8L1177.9 416.4L1179.2 413.3L1180.5 413.0L1181.8 416.5L1183.1 413.1L1184.4 413.4L1185.7 415.7L1187.0 412.0L1188.3 415.7L1189.6 410.7L1190.9 416.9L1192.2 410.2L1193.5 417.3L1194.8 411.0L1196.1 416.8L1197.4 412.2L1198.7 416.5L1200.0 413.3L1201.3 416.1L1202.6 413.0L1203.9 416.0L1205.2 412.9L1206.5 417.0L1207.8 412.7L1209.1 416.0L1210.4 411.9L1211.7 416.1L1213.0 411.3L1214.3 417.6L1215.6 410.3L1216.9 417.4L1218.2 410.6L1219.5 416.8L1220.8 410.5L1222.1 416.7L1223.4 412.3L1224.7 417.6L1226.0 413.0L1227.3 417.5L1228.6 413.2L1229.9 417.9L1231.2 413.6L1232.5 417.4L1233.8 413.7L1235.1 417.4L1236.4 413.4L1237.7 417.7L1239.0 412.4L1240.3 417.7L1241.6 412.1L1242.9 417.3L1244.2 412.0L1245.5 412.4L1246.8 417.7L1248.1 411.7L1249.4 418.1L1250.7 412.2L1252.0 417.6L1253.3 413.2L1254.6 417.0L1255.9 412.9L1257.2 412.6L1258.5 418.0L1259.8 413.5L1261.1 418.4L1262.4 414.2L1263.7 414.5L1265.0 418.8L1266.3 414.9L1267.6 419.5L1268.9 415.1L1270.2 418.7L1271.5 414.6L1272.8 414.2L1274.1 418.1L1275.4 413.2L1276.7 418.2L1278.0 418.5L1279.3 413.5L1280.6 413.8L1281.9 418.3L1283.2 418.9L1284.5 413.9L1285.8 418.9L1287.1 414.0L1288.4 417.7L1289.7 413.4L1291.0 418.0L1292.3 418.2L1293.6 412.2L1294.9 416.7L1296.2 412.9L1297.5 416.8L1298.8 413.1L1300.1 418.2L1301.4 412.2L1302.7 417.2L1304.0 413.0L1305.3 417.3L1306.6 412.5L1307.9 417.1L1309.2 414.1L1310.5 417.3L1311.8 414.5L1313.1 417.6L1314.4 413.9L1315.7 416.9L1317.0 414.1L1318.3 417.2L1319.6 413.9L1320.9 417.5L1322.2 415.2L1323.5 419.0L1324.8 414.7L1326.1 418.7L1327.4 414.4L1328.7 417.7L1330.0 414.0L1331.3 418.1L1332.6 415.5L1333.9 418.5L1335.2 418.7L1336.5 416.6L1337.8 419.5L1339.1 415.4L1340.4 419.7L1341.7 415.4L1343.0 418.6L1344.3 415.5L1345.6 418.9L1346.9 414.4L1348.2 418.4L1349.5 414.4L1350.8 414.5L1352.1 418.3L1353.4 415.5L1354.7 415.8L1356.0 418.4L1357.3 415.9L1358.6 419.0L1359.9 416.0L1361.2 418.1L1362.5 416.0L1363.8 418.3L1365.1 416.0L1366.4 418.9L1367.7 416.2L1369.0 418.4L1370.3 416.0L1371.6 417.5L1372.9 417.5L1374.2 415.5L1375.5 418.2L1376.8 415.6L1378.1 415.6L1379.4 417.3L1380.7 416.7L1382.0 418.3L1383.3 416.8L1384.6 417.9L1385.9 416.4L1387.2 417.2L1388.5 415.0L1389.8 418.1L1391.1 414.9L1392.4 419.0L1393.7 414.0L1395.0 418.0L1396.3 417.6L1397.6 415.1L1398.9 417.5L1400.2 414.4L1401.5 417.6L1402.8 414.0L1404.1 417.8L1405.4 414.1L1406.7 417.8L1408.0 413.2L1409.3 417.3L1410.6 412.9L1411.9 417.6L1413.2 412.9L1414.5 417.7L1415.8 413.8L1417.1 418.4L1418.4 414.3L1419.7 418.0L1421.0 414.0L1422.3 418.2L1423.6 414.4L1424.9 418.9L1426.2 415.3L1427.5 418.9L1428.8 416.0L1430.1 419.0L1431.4 415.6L1432.7 419.2L1434.0 416.1L1435.3 419.9L1436.6 419.4L1437.9 417.2L1439.2 418.7L1440.5 417.4L1441.8 419.8L1443.1 417.4L1444.4 416.2L1445.7 420.2L1447.0 416.8L1448.3 421.1L1449.6 417.3L1450.9 420.4L1452.2 417.6L1453.5 420.0L1454.8 418.1L1456.1 420.2L1457.4 418.2L1458.7 420.5L1460.0 417.7L1461.3 420.7L1462.6 418.7L1463.9 421.9L1465.2 418.3L1466.5 420.9L1467.8 418.6L1469.1 420.3L1470.4 418.5L1471.7 420.3L1473.0 418.0L1474.3 420.1L1475.6 417.6L1476.9 421.1L1478.2 417.0L1479.5 421.1L1480.8 417.9L1482.1 420.2L1483.4 417.6L1484.7 420.3L1486.0 416.7L1487.3 415.8L1488.6 421.1L1489.9 417.2L1491.2 420.2L1492.5 416.9L1493.8 419.4L1495.1 415.3L1496.4 415.2L1497.7 420.4L1499.0 415.7L1500.3 420.0L1501.6 416.1L1502.9 419.5L1504.2 416.5L1505.5 419.0L1506.8 416.3L1508.1 418.8L1509.4 416.4L1510.7 420.2L1512.0 419.5L1513.3 414.2L1514.6 418.6L1515.9 414.2L1517.2 418.1L1518.5 413.7L1519.8 417.9L1521.1 413.8L1522.4 418.9L1523.7 414.6L1525.0 420.1L1526.3 414.6L1527.6 419.2L1528.9 414.7L1530.2 418.5L1531.5 415.3L1532.8 418.8L1534.1 415.6L1535.4 418.9L1536.7 416.0L1538.0 419.7L1539.3 420.3L1540.6 415.5L1541.9 419.3L1543.2 416.4L1544.5 417.3L1545.8 419.1L1547.1 417.4L1548.4 419.1L1549.7 417.1L1551.0 420.3L1552.3 416.5L1553.6 420.6L1554.9 420.8L1556.2 416.7L1557.5 418.5L1558.8 416.1L1560.1 418.4L1561.4 415.3L1562.7 419.4L1564.0 415.9L1565.3 419.1L1566.6 415.5L1567.9 418.1L1569.2 415.3L1570.5 418.1L1571.8 415.6L1573.1 418.2L1574.4 416.7L1575.7 418.6L1577.0 416.1L1578.3 418.4L1579.6 415.4L1580.9 418.6L1582.2 415.8L1583.5 418.0L1584.8 415.8L1586.1 417.9L1587.4 415.0L1588.7 417.9L1590.0 414.9L1591.3 418.2L1592.6 414.4L1593.9 419.2L1595.2 415.1L1596.5 415.4L1597.8 414.7L1599.1 417.5L1600.4 415.3L1601.7 416.2L1603.0 418.4L1604.3 416.4L1605.6 418.5L1606.9 416.0L1608.2 418.4L1609.5 415.9L1610.8 418.3L1612.1 414.5L1613.4 418.8L1614.7 416.6L1616.0 418.6" fill="none" stroke="#FF00FF" stroke-width="8.4" stroke-linejoin="round" stroke-linecap="butt"/>
<path d="M200.6 402.0L203.3 263.5L204.3 263.5L204.8 345.0L206.5 385.0L209.6 402.0L212.5 385.0L214.0 345.0L214.7 36.0L217.3 36.0L218.4 300.0L221.3 404.0" fill="none" stroke="#FF00FF" stroke-width="8.4" stroke-linejoin="miter" stroke-miterlimit="2" stroke-linecap="round"/>
<path d="M251.5 402.0L253.2 380.0L255.0 325.0L255.4 120.5L256.9 120.5L257.5 300.0L258.2 407.0L259.3 407.0L260.9 311.5L261.7 311.5L265.5 407.0L267.5 407.0L272.4 311.5L273.0 311.5L274.6 404.0" fill="none" stroke="#FF00FF" stroke-width="8.4" stroke-linejoin="miter" stroke-miterlimit="2" stroke-linecap="round"/>
<path d="M363.2 372.0L364.9 204.0L367.6 204.0L369.2 372.0" fill="none" stroke="#FF00FF" stroke-width="8.4" stroke-linejoin="miter" stroke-miterlimit="2" stroke-linecap="round"/>
<path d="M156.0 803.8L157.2 791.4L158.5 802.5L159.8 791.3L161.0 804.5L162.2 806.2L163.5 789.8L164.8 807.2L166.0 785.0L167.2 804.7L168.5 788.4L169.8 806.6L171.0 789.3L172.2 803.9L173.5 791.1L174.8 805.5L176.0 790.3L177.2 805.3L178.5 787.8L179.8 803.4L181.0 786.2L182.2 803.1L183.5 787.2L184.8 804.4L186.0 786.7L187.2 802.4L188.5 787.9L189.8 801.9L191.0 789.1L192.2 800.9L193.5 787.9L194.8 798.8L196.0 787.4L197.2 797.7L198.5 785.5L199.8 795.1L201.0 784.5L201.5 787.5L202.3 410.5L202.8 410.5L203.7 787.5L204.8 794.4L206.0 780.8L207.2 794.8L208.5 780.0L209.8 794.8L211.0 781.8L212.2 795.4L213.5 782.2L214.0 790.2L214.9 576.5L215.4 576.5L216.4 790.2L217.2 800.6L218.5 786.1L219.8 790.7L221.0 808.0L222.2 790.4L223.5 806.2L224.8 792.1L226.0 805.4L227.2 791.1L228.5 790.3L229.8 803.8L231.0 791.4L232.2 806.4L233.5 794.7L234.8 808.6L236.0 795.8L237.2 739.5L238.5 792.3L239.8 807.9L241.0 794.3L242.2 793.6L243.5 807.3L244.8 793.8L246.0 807.6L247.2 793.8L248.5 795.0L249.8 807.6L251.0 810.2L252.2 795.8L253.5 808.5L254.8 797.3L256.0 808.2L257.2 794.8L258.5 809.2L259.8 796.2L261.0 806.7L262.2 794.7L263.5 807.4L264.8 798.1L266.0 810.4L267.2 795.3L268.5 809.7L269.8 801.3L270.8 541.0L271.2 541.0L272.2 801.3L273.5 808.6L274.8 800.2L276.0 721.5L277.2 810.8L278.5 797.6L279.8 809.2L281.0 796.1L282.2 808.9L283.5 795.2L284.8 796.1L286.0 811.2L287.2 797.4L288.5 798.1L289.8 782.5L291.0 796.2L292.2 814.7L293.5 800.8L294.8 812.1L296.0 813.2L297.2 802.7L298.5 810.9L299.8 801.1L301.0 810.1L302.2 798.5L303.5 808.6L304.8 799.7L306.0 811.4L307.2 799.1L308.5 796.8L309.8 817.2L311.0 800.6L312.2 812.5L313.5 796.0L314.8 815.4L316.0 796.6L317.2 811.1L318.5 799.1L319.8 810.6L321.0 801.0L322.2 812.8L323.5 798.0L324.8 816.2L326.0 799.8L327.2 801.4L328.5 813.0L329.8 801.2L331.0 812.8L332.2 799.9L333.5 813.8L334.8 801.3L336.0 799.8L337.2 813.9L338.5 799.7L339.8 816.3L341.0 797.8L342.2 813.6L343.5 814.9L344.8 795.5L346.0 814.5L347.2 795.0L348.5 810.7L349.8 797.1L351.0 809.8L352.2 810.4L353.5 794.6L354.8 811.4L356.0 793.2L357.2 812.4L358.5 810.7L359.8 794.1L361.0 812.6L362.2 811.7L363.5 810.8L363.9 799.0L364.9 675.0L365.4 675.0L366.5 799.0L367.2 791.3L368.5 804.1L369.8 792.1L371.0 793.2L372.2 803.4L373.5 803.1L374.8 791.1L376.0 807.0L377.2 788.7L378.5 805.2L379.8 785.4L381.0 808.0L382.2 785.0L383.5 800.1L384.8 784.2L386.0 800.2L387.2 799.9L388.5 782.8L389.8 803.9L391.0 783.8L392.2 799.3L393.5 785.6L394.8 797.9L396.0 781.6L397.2 800.5L398.5 781.2L399.8 803.1L401.0 784.0L402.2 799.5L403.5 779.8L404.8 792.9L406.0 777.8L407.2 794.1L408.5 783.5L409.8 794.6L411.0 783.1L412.2 796.4L413.5 786.2L414.8 796.3L416.0 786.1L417.2 797.1L418.5 784.2L419.8 795.1L421.0 782.4L422.2 792.5L423.5 781.6L424.8 790.9L426.0 776.3L427.2 789.9L428.5 772.2L429.8 789.9L431.0 772.1L432.2 790.1L433.5 771.1L434.8 789.2L436.0 772.8L437.2 790.4L438.5 787.4L439.8 772.9L441.0 773.9L442.2 792.7L443.5 776.7L444.8 790.6L446.0 775.7L447.2 789.8L448.5 775.3L449.8 788.7L451.0 774.7L452.2 791.2L453.5 776.8L454.8 773.9L456.0 791.6L457.2 776.4L458.5 795.9L459.8 772.5L461.0 794.1L462.2 773.6L463.5 774.4L464.8 797.8L466.0 778.7L467.2 796.0L468.5 775.1L469.8 794.6L471.0 791.4L472.2 775.1L473.5 787.9L474.8 774.2L476.0 782.9L477.2 770.4L478.5 783.8L479.8 771.6L481.0 785.1L482.2 769.8L483.5 783.6L484.8 771.9L486.0 781.1L487.2 770.8L488.5 769.8L489.8 748.5L491.0 770.8L492.2 787.7L493.5 768.5L494.8 788.8L496.0 786.2L497.2 775.3L498.5 787.4L499.8 776.8L501.0 789.9L502.2 789.8L503.5 778.8L504.8 789.4L506.0 779.1L507.2 792.0L508.5 776.6L509.8 791.4L511.0 777.5L512.2 790.2L513.5 775.6L514.8 786.4L516.0 771.6L517.2 783.7L518.5 768.9L519.8 784.1L521.0 765.7L522.2 769.0L523.5 779.9L524.8 781.4L526.0 765.7L527.2 778.2L528.5 763.6L529.8 764.3L531.0 762.0L532.2 766.8L533.5 784.3L534.8 769.9L536.0 783.4L537.2 770.0L538.5 786.5L539.8 773.4L541.0 790.5L542.2 772.6L543.5 786.4L544.8 790.0L546.0 767.1L547.2 789.9L548.5 770.7L549.8 769.0L551.0 785.8L552.2 784.7L553.5 772.4L554.8 785.4L556.0 775.4L557.2 790.2L558.5 775.4L559.8 787.1L561.0 769.3L562.2 785.5L563.5 772.7L564.8 772.2L566.0 770.0L567.2 781.8L568.5 780.1L569.8 761.5L571.0 771.0L572.2 784.0L573.5 774.3L574.8 788.9L576.0 774.0L577.2 792.4L578.5 779.7L579.8 777.8L581.0 790.9L582.2 775.0L583.5 790.2L584.8 775.2L586.0 789.3L587.2 775.1L588.5 785.9L589.8 775.0L591.0 788.0L592.2 790.6L593.5 778.2L594.8 790.1L596.0 779.3L597.2 792.6L598.5 792.8L599.8 777.8L601.0 796.3L602.2 778.8L603.5 779.5L604.8 791.9L606.0 778.3L607.2 791.9L608.5 790.7L609.8 775.3L611.0 789.7L612.2 774.3L613.5 787.5L614.8 771.0L616.0 783.2L617.2 764.0L618.5 767.0L619.8 754.2L620.0 754.7L621.0 761.2L622.2 762.4L623.5 781.0L624.8 767.5L626.0 766.9L627.2 779.7L628.5 762.4L629.8 758.4L630.5 759.1L631.0 758.7L632.2 773.3L633.5 764.8L634.8 770.1L636.0 784.2L637.2 772.6L638.5 785.8L639.8 774.7L641.0 788.2L642.2 775.0L643.5 792.7L644.8 777.5L646.0 793.5L647.2 779.5L648.5 794.9L649.8 778.4L651.0 793.5L652.2 777.6L653.5 794.4L654.8 777.1L656.0 792.2L657.2 790.0L658.5 775.2L659.8 787.4L661.0 776.2L662.2 788.4L663.5 779.6L664.8 791.7L666.0 778.6L667.2 778.3L668.5 790.4L669.8 777.5L671.0 791.9L672.2 780.2L673.5 776.9L674.8 796.4L676.0 778.0L677.2 794.7L678.5 754.5L679.8 793.5L681.0 780.8L682.2 797.0L683.5 783.1L684.8 795.6L686.0 785.1L687.2 783.4L688.5 798.9L689.8 780.9L691.0 802.3L692.2 781.0L693.5 797.7L694.8 776.3L696.0 794.5L697.2 794.9L698.5 780.4L699.8 781.3L701.0 796.7L702.2 781.4L703.5 799.4L704.8 780.1L706.0 795.6L707.2 792.9L708.5 775.9L709.8 775.7L711.0 789.5L712.2 776.4L713.5 775.1L714.8 787.1L716.0 773.1L717.2 784.5L718.5 784.5L719.8 764.0L721.0 771.5L722.2 744.3L723.5 716.7L724.8 685.4L726.0 647.9L726.1 647.9L727.2 669.2L728.5 707.6L729.8 757.1L731.0 750.0L732.2 777.9L733.5 765.9L734.8 788.1L736.0 768.1L737.2 789.8L738.5 774.3L739.8 792.0L741.0 775.5L742.2 793.8L743.5 774.1L744.8 792.8L746.0 776.1L747.2 795.4L748.5 777.7L749.8 794.1L751.0 782.0L752.2 797.3L753.5 782.3L754.8 798.1L756.0 795.9L757.2 779.4L758.5 798.1L759.8 775.9L761.0 795.0L762.2 795.4L763.5 773.6L764.8 795.5L766.0 775.0L767.2 791.1L768.5 776.6L769.8 791.3L771.0 788.7L772.2 788.2L773.5 786.7L774.8 777.2L776.0 791.4L777.2 791.1L778.5 781.9L779.8 794.5L781.0 783.2L782.2 794.3L783.5 781.2L784.8 791.3L786.0 778.9L787.2 780.8L788.5 793.1L789.8 780.4L791.0 792.5L792.2 777.1L793.5 793.3L794.8 778.4L796.0 792.6L797.2 778.1L798.5 791.8L799.8 780.5L801.0 789.4L802.2 779.3L803.5 786.6L804.8 771.2L806.0 777.3L807.2 762.2L808.1 762.8L808.5 762.0L809.8 775.8L811.0 767.9L812.2 786.7L813.5 787.8L814.8 774.9L816.0 777.1L817.2 788.7L818.5 779.4L819.8 790.0L821.0 779.6L822.2 787.7L823.5 776.8L824.8 784.3L826.0 770.2L827.2 781.5L828.5 765.4L829.8 769.9L831.0 746.6L832.2 739.2L833.3 729.8L833.5 730.6L834.8 735.2L836.0 766.1L837.2 761.9L838.5 783.1L839.8 774.6L841.0 788.1L842.2 774.2L843.5 785.5L844.8 788.0L846.0 775.0L847.2 789.7L848.5 774.7L849.8 789.9L851.0 776.9L852.2 793.6L853.5 777.8L854.8 795.5L856.0 777.4L857.2 795.4L858.5 775.5L859.8 792.8L861.0 778.0L862.2 794.0L863.5 795.8L864.8 776.0L866.0 790.8L867.2 777.1L868.5 791.0L869.8 776.1L871.0 787.0L872.2 771.9L873.5 789.5L874.8 771.6L876.0 770.0L877.2 771.4L878.5 788.1L879.8 774.8L881.0 793.6L882.2 776.2L883.5 791.4L884.8 778.9L886.0 792.8L887.2 779.1L888.5 794.5L889.8 778.0L891.0 795.4L892.2 779.3L893.5 799.6L894.8 795.8L896.0 779.5L897.2 796.8L898.5 781.1L899.8 797.3L901.0 778.5L902.2 779.6L903.5 792.5L904.8 780.1L906.0 791.0L907.2 777.4L908.5 791.1L909.8 789.7L911.0 790.1L912.2 787.4L913.5 769.8L914.8 788.0L916.0 773.0L917.2 787.0L918.5 774.7L919.8 790.4L921.0 775.3L922.2 787.4L923.5 775.0L924.8 784.9L926.0 774.0L927.2 784.6L928.5 775.4L929.8 783.6L931.0 768.5L932.2 785.2L933.5 774.5L934.8 792.1L936.0 793.0L937.2 780.0L938.5 793.6L939.8 782.9L941.0 797.3L942.2 795.8L943.5 783.3L944.8 799.2L946.0 777.0L947.2 793.3L948.5 778.9L949.8 791.3L951.0 779.4L952.2 790.1L953.5 776.4L954.8 793.0L956.0 778.3L957.2 793.1L958.5 775.8L959.8 788.3L961.0 776.4L962.2 791.5L963.5 774.4L964.8 790.7L966.0 773.3L967.2 791.3L968.5 770.4L969.8 793.1L971.0 773.9L972.2 787.8L973.5 788.5L974.8 772.0L976.0 790.5L977.2 774.1L978.5 791.4L979.8 774.8L981.0 791.1L982.2 776.9L983.5 791.6L984.8 778.9L986.0 791.9L987.2 777.1L988.5 791.7L989.8 777.8L991.0 791.9L992.2 788.6L993.5 772.8L994.8 788.8L996.0 791.4L997.2 774.5L998.5 791.6L999.8 773.7L1001.0 794.1L1002.2 773.8L1003.5 791.8L1004.8 775.3L1006.0 792.3L1007.2 774.5L1008.5 787.2L1009.8 775.3L1011.0 774.8L1012.2 787.7L1013.5 773.4L1014.8 787.5L1016.0 770.0L1017.2 787.0L1018.5 775.3L1019.8 789.4L1021.0 777.3L1022.2 789.2L1023.5 787.0L1024.8 774.1L1026.0 789.1L1027.2 775.5L1028.5 787.7L1029.8 776.5L1031.0 791.6L1032.2 778.0L1033.5 791.8L1034.8 774.2L1036.0 775.6L1037.2 791.1L1038.5 773.7L1039.8 790.3L1041.0 774.3L1042.2 788.8L1043.5 778.0L1044.8 791.4L1046.0 779.2L1047.2 788.5L1048.5 779.3L1049.8 787.8L1051.0 777.2L1052.2 791.0L1053.5 776.2L1054.8 791.1L1056.0 790.1L1057.2 778.1L1058.5 790.0L1059.8 779.6L1061.0 790.0L1062.2 788.9L1063.5 777.2L1064.8 792.9L1066.0 790.9L1067.2 776.7L1068.5 793.2L1069.8 777.8L1071.0 792.7L1072.2 789.6L1073.5 775.9L1074.8 788.8L1076.0 791.3L1077.2 791.4L1078.5 772.5L1079.8 790.3L1081.0 772.8L1082.2 791.2L1083.5 771.0L1084.8 788.3L1086.0 773.4L1087.2 791.2L1088.5 773.0L1089.8 791.0L1091.0 787.4L1092.2 776.1L1093.5 788.3L1094.8 776.1L1096.0 791.5L1097.2 778.0L1098.5 775.1L1099.8 795.6L1101.0 779.0L1102.2 794.8L1103.5 791.8L1104.8 774.7L1106.0 790.2L1107.2 793.5L1108.5 777.5L1109.8 794.0L1111.0 776.9L1112.2 792.9L1113.5 777.5L1114.8 777.3L1116.0 792.2L1117.2 774.9L1118.5 789.6L1119.8 775.8L1121.0 787.5L1122.2 776.6L1123.5 773.7L1124.8 793.8L1126.0 777.9L1127.2 795.6L1128.5 777.9L1129.8 792.5L1131.0 777.8L1132.2 794.5L1133.5 782.5L1134.8 795.4L1136.0 780.5L1137.2 793.6L1138.5 780.6L1139.8 791.1L1141.0 790.5L1142.2 780.1L1143.5 781.5L1144.8 794.8L1146.0 781.6L1147.2 794.5L1148.5 782.0L1149.8 794.8L1151.0 793.9L1152.2 779.1L1153.5 790.8L1154.8 780.4L1156.0 781.2L1157.2 789.8L1158.5 779.4L1159.8 777.8L1161.0 789.3L1162.2 772.5L1163.5 788.4L1164.8 778.8L1166.0 790.0L1167.2 778.5L1168.5 790.0L1169.8 788.2L1171.0 776.7L1172.2 786.2L1173.5 773.9L1174.8 784.9L1176.0 766.1L1177.2 772.9L1178.5 747.4L1179.8 743.2L1179.8 743.0L1181.0 755.2L1182.2 770.5L1183.5 763.6L1184.8 787.0L1186.0 772.0L1187.2 789.7L1188.5 776.3L1189.8 792.2L1191.0 775.5L1192.2 779.8L1193.5 792.4L1194.8 781.1L1196.0 791.7L1197.2 781.8L1198.5 795.9L1199.8 778.2L1201.0 799.1L1202.2 783.8L1203.5 801.5L1204.8 784.0L1206.0 801.3L1207.2 786.0L1208.5 802.0L1209.8 787.2L1211.0 800.5L1212.2 784.7L1213.5 801.5L1214.8 786.3L1216.0 785.9L1217.2 800.1L1218.5 784.0L1219.8 797.2L1221.0 782.2L1222.2 781.7L1223.5 793.6L1224.8 782.2L1226.0 795.7L1227.2 784.3L1228.5 796.3L1229.8 780.1L1231.0 796.1L1232.2 778.4L1233.5 776.2L1234.8 797.9L1236.0 778.8L1237.2 796.4L1238.5 779.8L1239.8 798.9L1241.0 799.5L1242.2 783.9L1243.5 799.4L1244.8 784.3L1246.0 798.3L1247.2 798.2L1248.5 797.5L1249.8 800.0L1251.0 788.4L1252.2 799.6L1253.5 783.5L1254.8 801.5L1256.0 784.0L1257.2 804.5L1258.5 784.5L1259.8 802.6L1261.0 783.5L1262.2 801.6L1263.5 785.5L1264.8 801.0L1266.0 787.3L1267.2 803.0L1268.5 785.0L1269.8 802.1L1271.0 784.1L1272.2 798.1L1273.5 801.2L1274.8 789.1L1276.0 785.3L1277.2 782.9L1278.5 796.8L1279.8 782.0L1281.0 799.0L1282.2 782.3L1283.5 796.5L1284.8 799.5L1286.0 786.3L1287.2 798.6L1288.5 785.7L1289.8 795.0L1291.0 785.2L1292.2 797.6L1293.5 783.9L1294.8 798.1L1296.0 785.0L1297.2 798.0L1298.5 797.2L1299.8 785.7L1301.0 798.8L1302.2 785.5L1303.5 798.9L1304.8 801.3L1306.0 783.5L1307.2 801.5L1308.5 786.4L1309.8 796.8L1311.0 785.2L1312.2 801.6L1313.5 785.2L1314.8 803.9L1316.0 785.0L1317.2 801.3L1318.5 786.4L1319.8 801.5L1321.0 788.3L1322.2 804.8L1323.5 789.8L1324.8 806.2L1326.0 804.6L1327.2 790.0L1328.5 802.3L1329.8 787.4L1331.0 805.1L1332.2 787.5L1333.5 802.5L1334.8 783.9L1336.0 806.0L1337.2 785.0L1338.5 799.6L1339.8 787.2L1341.0 800.7L1342.2 786.3L1343.5 781.5L1344.8 787.0L1346.0 799.1L1347.2 786.1L1348.5 799.5L1349.8 784.8L1351.0 786.5L1352.2 799.8L1353.5 787.3L1354.8 788.4L1356.0 806.2L1357.2 785.9L1358.5 801.1L1359.8 787.4L1361.0 800.4L1362.2 786.8L1363.5 800.1L1364.8 784.7L1366.0 798.5L1367.2 782.3L1368.5 785.2L1369.8 797.4L1371.0 778.5L1372.2 784.0L1373.5 796.1L1374.8 787.7L1376.0 800.8L1377.2 788.1L1378.5 803.0L1379.8 803.7L1381.0 789.4L1382.2 801.2L1383.5 800.0L1384.8 787.4L1386.0 798.8L1387.2 786.2L1388.5 797.0L1389.8 782.4L1391.0 794.8L1392.2 782.1L1393.5 797.0L1394.8 797.9L1396.0 779.6L1397.2 775.9L1398.5 791.8L1399.8 770.4L1401.0 776.0L1402.2 755.9L1403.2 754.5L1403.5 755.8L1404.8 761.1L1406.0 781.2L1407.2 774.5L1408.5 778.8L1409.8 797.1L1411.0 781.0L1412.2 797.2L1413.5 782.6L1414.8 797.8L1416.0 784.2L1417.2 800.8L1418.5 785.1L1419.8 801.4L1421.0 785.9L1422.2 802.0L1423.5 782.1L1424.8 802.1L1426.0 785.5L1427.2 800.5L1428.5 783.8L1429.8 786.8L1431.0 804.1L1432.2 785.9L1433.5 804.0L1434.8 790.0L1436.0 800.1L1437.2 787.8L1438.5 798.3L1439.8 788.0L1441.0 786.0L1442.2 797.5L1443.5 788.2L1444.8 798.7L1446.0 783.9L1447.2 787.0L1448.5 801.4L1449.8 786.7L1451.0 801.2L1452.2 784.6L1453.5 799.3L1454.8 784.7L1456.0 797.6L1457.2 783.9L1458.5 797.7L1459.8 796.6L1461.0 784.2L1462.2 795.0L1463.5 784.3L1464.8 778.5L1466.0 779.5L1467.2 798.1L1468.5 782.3L1469.8 795.9L1471.0 778.9L1472.2 791.1L1473.5 776.5L1474.2 776.9L1474.8 776.5L1476.0 789.6L1477.2 783.4L1478.5 796.3L1479.8 785.7L1481.0 788.6L1482.2 800.3L1483.5 788.5L1484.8 801.6L1486.0 786.2L1487.2 800.9L1488.5 785.6L1489.8 801.5L1491.0 787.7L1492.2 804.1L1493.5 785.1L1494.8 807.3L1496.0 784.0L1497.2 805.3L1498.5 802.5L1499.8 786.2L1501.0 801.8L1502.2 785.6L1503.5 804.2L1504.8 787.5L1506.0 786.5L1507.2 804.4L1508.5 786.2L1509.8 803.2L1511.0 788.0L1512.2 802.2L1513.5 788.1L1514.8 786.6L1516.0 783.7L1517.2 799.6L1518.5 778.5L1519.8 798.1L1521.0 787.1L1522.2 802.2L1523.5 789.6L1524.8 799.9L1526.0 786.6L1527.2 803.3L1528.5 786.3L1529.8 802.6L1531.0 778.5L1532.2 786.9L1533.5 800.3L1534.8 789.8L1536.0 801.0L1537.2 791.4L1538.5 802.0L1539.8 788.5L1541.0 801.6L1542.2 792.3L1543.5 803.1L1544.8 791.6L1546.0 804.1L1547.2 789.6L1548.5 802.1L1549.8 787.7L1551.0 803.5L1552.2 790.2L1553.5 804.9L1554.8 791.2L1556.0 803.8L1557.2 791.8L1558.5 792.1L1559.8 802.6L1561.0 790.3L1562.2 804.3L1563.5 788.1L1564.8 788.9L1566.0 803.2L1567.2 791.0L1568.5 804.2L1569.8 792.7L1571.0 804.1L1572.2 790.1L1573.5 802.9L1574.8 789.5L1576.0 804.1L1577.2 789.5L1578.5 806.3L1579.8 791.8L1581.0 805.8L1582.2 788.5L1583.5 806.4L1584.8 789.1L1586.0 804.5L1587.2 792.6L1588.5 805.6L1589.8 790.2L1591.0 805.0L1592.2 793.9L1593.5 805.7L1594.8 805.0L1596.0 792.7L1597.2 804.2L1598.5 801.6L1599.8 788.7L1601.0 802.2L1602.2 790.7L1603.5 801.7L1604.8 784.5L1606.0 789.8L1607.2 801.8L1608.5 790.1L1609.8 800.5L1611.0 791.2L1612.2 802.9L1613.5 788.4L1614.8 805.0L1616.0 792.0" fill="none" stroke="#0000FF" stroke-width="5.2" stroke-linejoin="round" stroke-linecap="butt"/>
<path d="M201.5 787.5L202.35 410.5L202.85 410.5L203.7 787.5" fill="none" stroke="#0000FF" stroke-width="5.2" stroke-linejoin="miter" stroke-miterlimit="2"/>
<path d="M214.0 790.2L214.95 576.5L215.45 576.5L216.4 790.2" fill="none" stroke="#0000FF" stroke-width="5.2" stroke-linejoin="miter" stroke-miterlimit="2"/>
<path d="M269.8 801.3L270.75 541.0L271.25 541.0L272.2 801.3" fill="none" stroke="#0000FF" stroke-width="5.2" stroke-linejoin="miter" stroke-miterlimit="2"/>
<path d="M363.9 799.0L364.95 675.0L365.45 675.0L366.5 799.0" fill="none" stroke="#0000FF" stroke-width="5.2" stroke-linejoin="miter" stroke-miterlimit="2"/>
<g stroke="#000" stroke-width="8.3" fill="none">
<path d="M239.0 1108.2V1084.2"/>
<path d="M411.7 1108.2V1084.2"/>
<path d="M584.3 1108.2V1084.2"/>
<path d="M757.0 1108.2V1084.2"/>
<path d="M929.6 1108.2V1084.2"/>
<path d="M1102.3 1108.2V1084.2"/>
<path d="M1274.9 1108.2V1084.2"/>
<path d="M1447.6 1108.2V1084.2"/>
<path d="M325.3 1108.2V1093.8"/>
<path d="M498.0 1108.2V1093.8"/>
<path d="M670.6 1108.2V1093.8"/>
<path d="M843.3 1108.2V1093.8"/>
<path d="M1015.9 1108.2V1093.8"/>
<path d="M1188.6 1108.2V1093.8"/>
<path d="M1361.2 1108.2V1093.8"/>
<path d="M1533.9 1108.2V1093.8"/>
</g>
<rect x="152.7" y="22.3" width="1467.5" height="1085.9" fill="none" stroke="#000" stroke-width="8.2"/>
<g font-family="'Liberation Serif', 'Times New Roman', serif" font-weight="bold" fill="#000">
<text x="237.7" y="1184.8" font-size="70.5" text-anchor="middle">10</text>
<text x="410.4" y="1184.8" font-size="70.5" text-anchor="middle">20</text>
<text x="583.0" y="1184.8" font-size="70.5" text-anchor="middle">30</text>
<text x="755.7" y="1184.8" font-size="70.5" text-anchor="middle">40</text>
<text x="928.3" y="1184.8" font-size="70.5" text-anchor="middle">50</text>
<text x="1101.0" y="1184.8" font-size="70.5" text-anchor="middle">60</text>
<text x="1273.6" y="1184.8" font-size="70.5" text-anchor="middle">70</text>
<text x="1446.3" y="1184.8" font-size="70.5" text-anchor="middle">80</text>
<text x="1618.9" y="1184.8" font-size="70.5" text-anchor="middle">90</text>
<text x="884.6" y="1315.4" font-size="88" text-anchor="middle" textLength="599.5" lengthAdjust="spacingAndGlyphs">2Theta (degree)</text>
<text transform="translate(88.6 621.2) rotate(-90)" x="0" y="0" font-size="92" text-anchor="middle" textLength="555.5" lengthAdjust="spacingAndGlyphs">Intensity (a.u.)</text>
<text x="1526.1" y="312.4" font-size="87" text-anchor="middle" textLength="104.6" lengthAdjust="spacingAndGlyphs">(a)</text>
<text x="1531.7" y="597.6" font-size="87" text-anchor="middle" textLength="109.6" lengthAdjust="spacingAndGlyphs">(b)</text>
<text x="1531.4" y="891.4" font-size="87" text-anchor="middle" textLength="99.0" lengthAdjust="spacingAndGlyphs">(c)</text>
<text x="1203.8" y="148.3" font-size="67" textLength="76.8" lengthAdjust="spacingAndGlyphs">Ag</text>
<text y="259.7" font-size="69.5"><tspan x="1205.8">Fe</tspan><tspan x="1276.8" font-size="62" dy="27.4">3</tspan><tspan x="1306.2" dy="-27.4">O</tspan><tspan x="1359.3" font-size="62" dy="27.4">4</tspan></text>
</g>
</svg>
</body>
</html>
